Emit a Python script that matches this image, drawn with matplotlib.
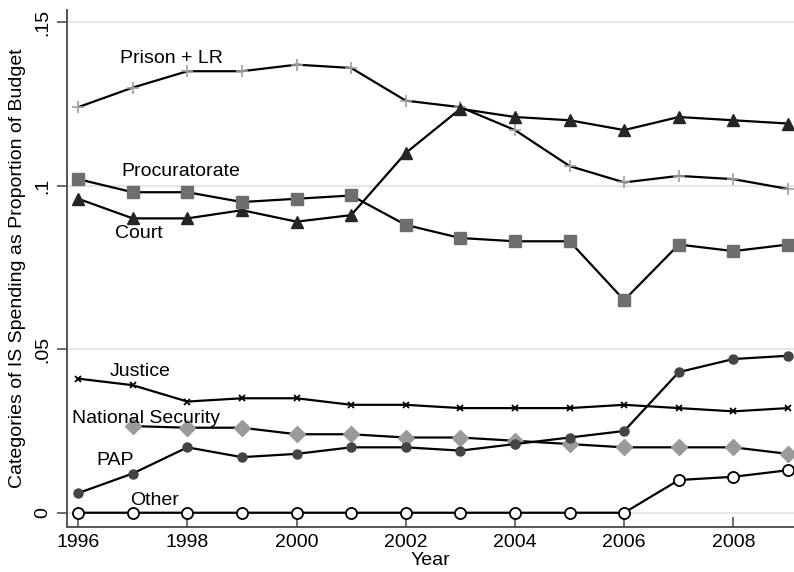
import matplotlib
matplotlib.use("Agg")
import matplotlib.pyplot as plt
import numpy as np

plt.rcParams['font.family'] = ['Liberation Sans', 'DejaVu Sans']

years = list(range(1996, 2010))

prison_lr = [0.124, 0.130, 0.135, 0.135, 0.137, 0.136, 0.126, 0.124, 0.117, 0.106, 0.101, 0.103, 0.102, 0.099]
court = [0.096, 0.090, 0.090, 0.0925, 0.089, 0.091, 0.110, 0.1235, 0.121, 0.120, 0.117, 0.121, 0.120, 0.119]
procuratorate = [0.102, 0.098, 0.098, 0.095, 0.096, 0.097, 0.088, 0.084, 0.083, 0.083, 0.065, 0.082, 0.080, 0.082]
justice = [0.041, 0.039, 0.034, 0.035, 0.035, 0.033, 0.033, 0.032, 0.032, 0.032, 0.033, 0.032, 0.031, 0.032]
national_security = [np.nan, 0.0265, 0.026, 0.026, 0.024, 0.024, 0.023, 0.023, 0.022, 0.021, 0.020, 0.020, 0.020, 0.018]
pap = [0.006, 0.012, 0.020, 0.017, 0.018, 0.020, 0.020, 0.019, 0.021, 0.023, 0.025, 0.043, 0.047, 0.048]
other = [0, 0, 0, 0, 0, 0, 0, 0, 0, 0, 0, 0.010, 0.011, 0.013]

yticks = [0, 0.05, 0.10, 0.15]
ytick_labels = ['0', '.05', '.1', '.15']
xticks = [1996, 1998, 2000, 2002, 2004, 2006, 2008]

fig = plt.figure(figsize=(7.94, 5.72), dpi=100)
ax = fig.add_axes([0.084, 0.079, 0.916, 0.904])

lw = 1.6
ax.plot(years, prison_lr, color='black', lw=lw, marker='+', ms=9, mec='#a0a0a0', mew=1.2)
ax.plot(years, court, color='black', lw=lw, marker='^', ms=9, mfc='#252525', mec='#252525')
ax.plot(years, procuratorate, color='black', lw=lw, marker='s', ms=8.5, mfc='#6e6e6e', mec='#6e6e6e')
ax.plot(years, justice, color='black', lw=lw, marker='x', ms=5, mec='black', mew=1.3)
ax.plot(years, national_security, color='black', lw=lw, marker='D', ms=8, mfc='#9a9a9a', mec='#9a9a9a')
ax.plot(years, pap, color='black', lw=lw, marker='o', ms=6.5, mfc='#444444', mec='#444444')
ax.plot(years, other, color='black', lw=lw, marker='o', ms=8, mfc='white', mec='black', mew=1.3, zorder=3)

fs = 14
ax.text(1997.71, 0.139, 'Prison + LR', fontsize=fs, ha='center', va='center')
ax.text(1997.88, 0.1044, 'Procuratorate', fontsize=fs, ha='center', va='center')
ax.text(1997.11, 0.0855, 'Court', fontsize=fs, ha='center', va='center')
ax.text(1997.13, 0.0432, 'Justice', fontsize=fs, ha='center', va='center')
ax.text(1997.24, 0.0289, 'National Security', fontsize=fs, ha='center', va='center')
ax.text(1996.68, 0.0159, 'PAP', fontsize=fs, ha='center', va='center')
ax.text(1997.40, 0.0036, 'Other', fontsize=fs, ha='center', va='center')

ax.set_xlim(1995.79, 2009.11)
ax.set_ylim(-0.0043, 0.1538)
ax.set_yticks(yticks)
ax.set_yticklabels(ytick_labels, rotation=90, va='center', fontsize=fs)
ax.set_xticks(xticks)
ax.set_xticklabels([str(x) for x in xticks], fontsize=fs)
ax.tick_params(axis='y', direction='out', length=7, width=1.2, color='#555555', pad=4)
ax.tick_params(axis='x', direction='in', length=7, width=1.2, color='#555555', pad=5)

ax.grid(axis='y', color='#e6e6e6', lw=1.5)
ax.set_axisbelow(True)
for s in ['top', 'right']:
    ax.spines[s].set_visible(False)
for s in ['left', 'bottom']:
    ax.spines[s].set_color('#555555')
    ax.spines[s].set_linewidth(1.4)

ax.set_xlabel('Year', fontsize=fs, labelpad=1)
ax.set_ylabel('Categories of IS Spending as Proportion of Budget', fontsize=fs, labelpad=6)

fig.savefig('out.png', dpi=100)
